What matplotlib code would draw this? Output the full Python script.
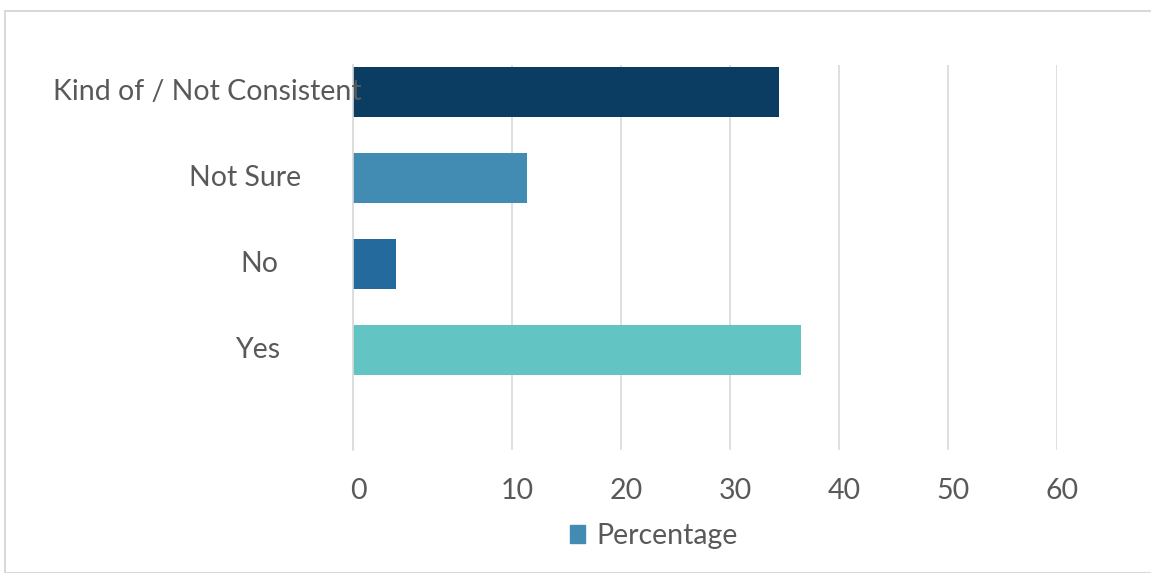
import numpy as np
import matplotlib
matplotlib.use("Agg")
import matplotlib.pyplot as plt
import matplotlib.transforms as mtransforms
from matplotlib.patches import Patch, Rectangle

# data, bottom to top
categories = ["Yes", "No", "Not Sure", "Kind of / Not Consistent"]
values = [36.5, 2.7, 11.4, 34.5]
bar_colors = ["#62c4c3", "#256a9d", "#428bb3", "#0b3d63"]
x_ticks = [0, 10, 20, 30, 40, 50, 60]
series_name = "Percentage"

# the source axis is stretched between 0 and 10 (159 px) vs 109 px per 10 after
K = 159 / 109


def fwd(x):
    x = np.asarray(x, dtype=float)
    return np.where(x < 10, x * K, 10 * K + (x - 10))


def inv(y):
    y = np.asarray(y, dtype=float)
    return np.where(y < 10 * K, y / K, y - 10 * K + 10)


W, H = 1151, 573
FS = 20.5
plt.rcParams["font.family"] = ["Lato", "DejaVu Sans"]
text_color = "#595959"
grid_color = "#d9d9d9"

fig = plt.figure(figsize=(W / 100, H / 100), dpi=100)
fig.patches.append(Rectangle((5 / W, 0), 1.2, 1 - 11 / H, transform=fig.transFigure,
                             fill=False, edgecolor=grid_color, linewidth=1.5))

ax = fig.add_axes([353 / W, 1 - 450 / H, (1057 - 353) / W, (450 - 65) / H])
ax.set_xscale("function", functions=(fwd, inv))

y = np.arange(len(categories))
ax.barh(y, values, height=0.58, color=bar_colors, zorder=2)
ax.set_xlim(0, 60)
ax.set_ylim(-1.16, 3.31)

ax.set_xticks(x_ticks)
ax.set_xticklabels([str(t) for t in x_ticks])
ax.xaxis.set_minor_locator(plt.NullLocator())
ax.tick_params(axis="x", length=0, pad=20, labelsize=FS, labelcolor=text_color)
shift = mtransforms.ScaledTranslation(5 / 100, 0, fig.dpi_scale_trans)
for lbl in ax.get_xticklabels():
    lbl.set_transform(lbl.get_transform() + shift)

ax.set_yticks([])
ax.grid(axis="x", color=grid_color, linewidth=1.2, zorder=0)
for s in ["top", "right", "bottom"]:
    ax.spines[s].set_visible(False)
ax.spines["left"].set_color(grid_color)
ax.spines["left"].set_linewidth(1.2)

# category labels, placed like the source
label_x = [259, 259, 245, 207.5]
tr = mtransforms.blended_transform_factory(fig.transFigure, ax.transData)
for yi, name, lx in zip(y, categories, label_x):
    ax.text(lx / W, yi, name, transform=tr, ha="center", va="center",
            fontsize=FS, color=text_color, zorder=5, clip_on=False)

fig.legend(handles=[Patch(color="#428bb3", label=series_name)],
           loc="center", bbox_to_anchor=(654 / W, 1 - 536 / H), frameon=False,
           fontsize=FS, labelcolor=text_color, handlelength=0.55, handleheight=0.55,
           handletextpad=0.4)

fig.savefig("out.png", dpi=100)
